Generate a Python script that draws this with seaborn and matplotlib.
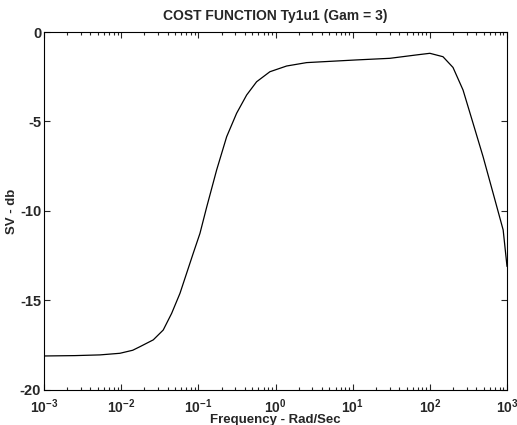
import numpy as np
import pandas as pd
import matplotlib
matplotlib.use("Agg")
import matplotlib.pyplot as plt
import seaborn as sns
from matplotlib.ticker import LogLocator, FixedLocator

# Data: log10(frequency) and SV (dB)
log_freq = [-3.0, -2.6, -2.275, -2.016, -1.85, -1.756, -1.584, -1.455, -1.346,
            -1.238, -1.152, -1.066, -0.979, -0.893, -0.763, -0.633, -0.504,
            -0.374, -0.245, -0.073, 0.144, 0.403, 0.618, 1.05, 1.482, 1.828,
            2.0, 2.17, 2.30, 2.43, 2.56, 2.69, 2.82, 2.95, 3.0]
sv_db = [-18.1, -18.08, -18.04, -17.95, -17.78, -17.58, -17.2, -16.65, -15.72,
         -14.6, -13.48, -12.36, -11.25, -9.8, -7.71, -5.85, -4.54,
         -3.52, -2.78, -2.22, -1.9, -1.71, -1.66, -1.56, -1.47, -1.28,
         -1.19, -1.38, -1.98, -3.24, -5.1, -6.97, -9.01, -11.06, -13.1]

title = "COST FUNCTION Ty1u1 (Gam = 3)"
xlabel = "Frequency - Rad/Sec"
ylabel = "SV - db"
yticks = [-20, -15, -10, -5, 0]

df = pd.DataFrame({"freq": 10.0 ** np.array(log_freq), "sv": sv_db})

sns.set_style("ticks")
plt.rcParams['font.family'] = ['Liberation Sans', 'DejaVu Sans']

fig = plt.figure(figsize=(5.17, 4.25), dpi=100)
ax = fig.add_axes([0.0851, 0.0824, 0.8956, 0.8423])
sns.lineplot(data=df, x="freq", y="sv", ax=ax, color="black", linewidth=0.9)
ax.set_xscale("log")
ax.set_xlim(1e-3, 1e3)
ax.set_ylim(-20, 0)
ax.yaxis.set_major_locator(FixedLocator(yticks))
ax.set_yticklabels([str(t) for t in yticks])
ax.xaxis.set_major_locator(LogLocator(base=10, numticks=10))
ax.xaxis.set_minor_locator(LogLocator(base=10, subs=np.arange(2, 10), numticks=20))
ax.tick_params(which="both", direction="in", top=True, right=True, width=0.8)
ax.tick_params(axis="y", labelsize=10.5, pad=2)
ax.tick_params(axis="x", labelsize=10, pad=5)
ax.tick_params(which="major", length=4)
ax.tick_params(which="minor", length=2)
for lab in ax.get_xticklabels() + ax.get_yticklabels():
    lab.set_fontweight("bold")
for s in ax.spines.values():
    s.set_visible(True)
    s.set_linewidth(0.8)
    s.set_color("black")
ax.set_title(title, fontsize=10, fontweight="bold", pad=9)
ax.set_xlabel(xlabel, fontsize=9.5, fontweight="bold", labelpad=-1)
ax.set_ylabel(ylabel, fontsize=9.5, fontweight="bold", labelpad=1)
fig.savefig("out.png", dpi=100)
